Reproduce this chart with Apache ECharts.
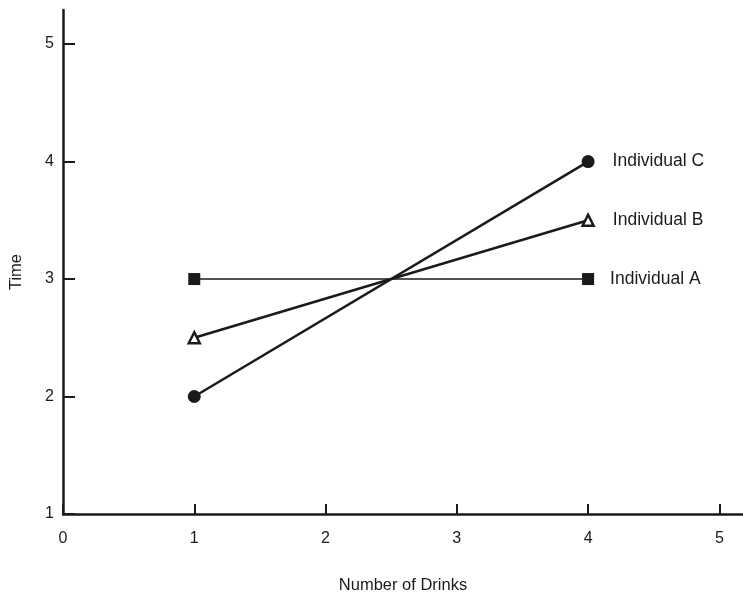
<!DOCTYPE html>
<html>
<head>
<meta charset="utf-8">
<script src="https://cdn.jsdelivr.net/npm/echarts@6/dist/echarts.min.js"></script>
<style>
  html, body { margin: 0; padding: 0; background: #fff; }
  #chart { width: 743px; height: 594px; }
</style>
</head>
<body>
<div id="chart"></div>
<script>
// data
var drinks = [1, 4];
var individualA = [3, 3];
var individualB = [2.5, 3.5];
var individualC = [2, 4];
var seriesNames = ['Individual A', 'Individual B', 'Individual C'];

var chart = echarts.init(document.getElementById('chart'));
var font = 'Liberation Sans, Arial, sans-serif';

function pairs(vals) {
  return drinks.map(function (x, i) { return [x, vals[i]]; });
}

// label only the last point
function endLabel(name, dx) {
  return {
    show: true,
    position: 'right',
    distance: dx,
    formatter: function (p) { return p.dataIndex === drinks.length - 1 ? name : ''; },
    color: '#1a1a1a',
    fontSize: 17.5,
    fontFamily: font
  };
}

var option = {
  animation: false,
  grid: { left: 63, top: 10, right: 0, bottom: 80, containLabel: false, outerBoundsMode: 'none' },
  xAxis: {
    type: 'value',
    min: 0,
    max: 5.18,
    interval: 1,
    name: 'Number of Drinks',
    nameLocation: 'middle',
    nameGap: 63,
    nameTextStyle: { color: '#1a1a1a', fontSize: 16.5, fontFamily: font },
    axisLine: { lineStyle: { color: '#1a1a1a', width: 2.5 } },
    axisTick: { inside: true, length: 10, lineStyle: { color: '#1a1a1a', width: 2 } },
    axisLabel: {
      color: '#1a1a1a', fontSize: 16, fontFamily: font, margin: 17,
      showMaxLabel: false,
      formatter: function (v) { return Number.isInteger(v) ? v : ''; }
    },
    splitLine: { show: false }
  },
  yAxis: {
    type: 'value',
    min: 1,
    max: 5.29,
    interval: 1,
    name: 'Time',
    nameLocation: 'middle',
    nameGap: 38,
    nameTextStyle: { color: '#1a1a1a', fontSize: 16.5, fontFamily: font, padding: [0, 20, 0, 0] },
    axisLine: { lineStyle: { color: '#1a1a1a', width: 2.5 } },
    axisTick: { inside: true, length: 12, lineStyle: { color: '#1a1a1a', width: 2 } },
    axisLabel: {
      color: '#1a1a1a', fontSize: 16, fontFamily: font, margin: 9,
      showMaxLabel: false,
      formatter: function (v) { return Number.isInteger(v) ? v : ''; }
    },
    splitLine: { show: false }
  },
  series: [{
    name: seriesNames[0],
    type: 'line',
    data: pairs(individualA),
    symbol: 'rect',
    symbolSize: 12,
    itemStyle: { color: '#1a1a1a' },
    lineStyle: { color: '#1a1a1a', width: 1.5 },
    label: endLabel(seriesNames[0], 16)
  }, {
    name: seriesNames[1],
    type: 'line',
    data: pairs(individualB),
    symbol: 'triangle',
    symbolSize: 11,
    itemStyle: { color: '#fff', borderColor: '#1a1a1a', borderWidth: 2.5 },
    lineStyle: { color: '#1a1a1a', width: 2.5 },
    label: endLabel(seriesNames[1], 18)
  }, {
    name: seriesNames[2],
    type: 'line',
    data: pairs(individualC),
    symbol: 'circle',
    symbolSize: 13,
    itemStyle: { color: '#1a1a1a' },
    lineStyle: { color: '#1a1a1a', width: 2.5 },
    label: endLabel(seriesNames[2], 18)
  }]
};

chart.setOption(option);
</script>
</body>
</html>
